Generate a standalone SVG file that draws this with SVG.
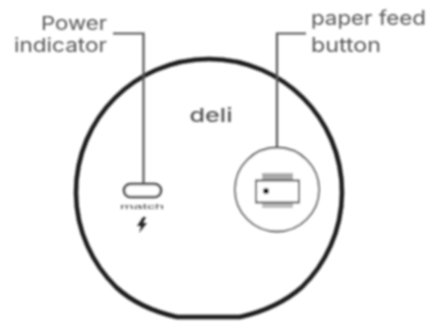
<svg xmlns="http://www.w3.org/2000/svg" width="431" height="322" viewBox="0 0 431 322">
<defs><filter id="soft" x="-5%" y="-5%" width="110%" height="110%"><feGaussianBlur stdDeviation="0.9"/></filter></defs>
<style>
.lbl{font-family:"Inter","Liberation Sans",sans-serif;font-size:20px;fill:#555}
.lbl2{font-family:"Inter","Liberation Sans",sans-serif;font-size:18.500px;fill:#555}
.lead{fill:none;stroke:#555;stroke-width:2.200}
</style>
<rect width="431" height="322" fill="#fff"/>
<g filter="url(#soft)">
<g id="body"><path d="M116 287A133 133 0 1 1 302 287C285 302 262 312 240 317L177 317C155 312 132 302 116 287Z" fill="none" stroke="#1c1c1c" stroke-width="4.500"/></g>
<g id="logo"><text x="211" y="122" text-anchor="middle" font-family="'Inter','Liberation Sans',sans-serif" font-size="19" font-weight="500" textLength="43" lengthAdjust="spacingAndGlyphs" fill="#555">deli</text></g>
<g id="power-indicator-label"><text class="lbl2" x="107" y="30" text-anchor="end" textLength="66" lengthAdjust="spacingAndGlyphs">Power</text><text class="lbl2" x="107" y="52" text-anchor="end" textLength="93" lengthAdjust="spacingAndGlyphs">indicator</text></g>
<g id="paper-feed-label"><text class="lbl" x="311" y="25" textLength="115" lengthAdjust="spacingAndGlyphs">paper feed</text><text class="lbl" x="311" y="52" textLength="70" lengthAdjust="spacingAndGlyphs">button</text></g>
<g id="usb-port"><rect x="124" y="184" width="37" height="13" rx="6.500" fill="#fff" stroke="#444" stroke-width="2.600"/>
<text x="142" y="209" text-anchor="middle" font-family="'Liberation Sans',sans-serif" font-size="7" textLength="44" lengthAdjust="spacingAndGlyphs" fill="#444">match</text>
<path d="M143 217L137 226L141 226L139 233L147 223L143 223L146 217Z" fill="#222"/></g>
<g id="feed-button"><circle cx="277" cy="189.500" r="42" fill="#fff" stroke="#555" stroke-width="1.800"/>
<rect x="262" y="173" width="31" height="7" fill="#aaa"/><rect x="262" y="202" width="31" height="6" fill="#bbb"/>
<rect x="256" y="180.500" width="43" height="22" fill="#fff" stroke="#555" stroke-width="2"/>
<circle cx="266" cy="191" r="3" fill="#111"/></g>
<g id="connectors">
<path class="lead" d="M113 33.500H143.500V184"/>
<path class="lead" d="M306 33.500H277V148"/>
</g>
</g>
</svg>
